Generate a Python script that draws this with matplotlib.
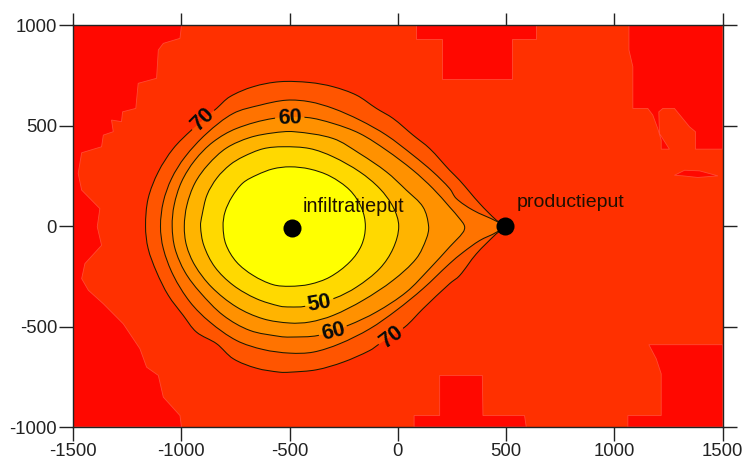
import numpy as np
import matplotlib
matplotlib.use("Agg")
import matplotlib.pyplot as plt
from matplotlib.path import Path
from matplotlib.patches import PathPatch
from matplotlib.transforms import Affine2D

plt.rcParams['font.family'] = ['Liberation Sans', 'DejaVu Sans']

# contour outlines, in data units
c45_x = [-807,-798,-766,-715,-650,-576,-498,-407,-314,-222,-168,-150,-168,-222,-314,-407,-499,-576,-668,-745,-794]
c45_y = [0,71,146,216,256,286,296,285,250,180,92,0,-95,-178,-253,-289,-299,-291,-245,-178,-90]
c50_x = [-911,-904,-881,-835,-775,-715,-622,-530,-407,-299,-176,-84,-22,4,-22,-84,-191,-291,-430,-499,-545,-653,-760,-845,-896]
c50_y = [0,56,156,241,306,346,386,396,387,346,271,188,96,0,-111,-211,-303,-358,-399,-402,-398,-361,-294,-203,-95]
c55_x = [-986,-974,-937,-876,-791,-683,-576,-480,-299,-176,-53,39,116,142,132,85,-22,-161,-299,-407,-499,-622,-745,-860,-937,-976]
c55_y = [0,105,215,307,390,442,465,471,437,362,271,180,96,0,-61,-161,-269,-369,-444,-477,-482,-461,-402,-303,-195,-95]
c60_x = [-1042,-1033,-999,-937,-853,-745,-576,-422,-299,-176,-53,70,162,239,285,308,301,239,147,39,-99,-230,-368,-499,-545,-683,-806,-914,-983,-1029]
c60_y = [0,105,221,329,420,487,537,542,512,462,379,279,188,96,38,0,-30,-103,-211,-328,-427,-494,-544,-552,-549,-519,-444,-328,-228,-111]
c65_x = [-1096,-1083,-1045,-983,-883,-760,-637,-514,-407,-299,-176,-53,70,162,239,270,347,455,485,455,378,301,239,116,-7,-130,-268,-391,-499,-622,-745,-868,-960,-1037,-1083]
c65_y = [0,121,237,345,462,562,603,628,620,587,529,454,354,271,188,138,80,25,0,-30,-71,-130,-186,-311,-419,-511,-585,-627,-632,-614,-569,-477,-377,-244,-111]
c70_x = [-1165,-1153,-1106,-1037,-953,-837,-776,-668,-545,-407,-299,-191,-99,-22,70,147,239,285,378,455,496,455,362,285,239,116,32,-84,-130,-253,-376,-499,-545,-653,-760,-837,-930,-991,-1060,-1114,-1153]
c70_y = [0,138,271,387,479,587,645,695,720,716,695,653,587,537,454,387,279,229,113,30,0,-37,-138,-246,-286,-411,-502,-585,-619,-677,-715,-727,-727,-707,-660,-585,-527,-444,-344,-228,-111]

# outermost (red) regions
red_left_x = [-1500,-999,-1006,-1083,-1106,-1114,-1199,-1210,-1271,-1276,-1322,-1314,-1360,-1368,-1460,-1476,-1460,-1376,-1388,-1368,-1445,-1460,-1429,-1360,-1268,-1191,-1160,-1106,-1083,-1006,-999,-1500]
red_left_y = [1000,1000,936,911,878,737,712,587,570,521,529,471,454,396,366,263,180,88,-3,-95,-186,-261,-319,-386,-486,-610,-702,-743,-851,-943,-1000,-1000]
red_top_x = [86,636,636,527,527,205,205,86]
red_top_y = [1000,1000,933,933,733,733,933,933]
red_tr_x = [1067,1067,1085,1085,1154,1177,1200,1216,1216,1254,1208,1205,1224,1277,1347,1374,1374,1500,1500]
red_tr_y = [1000,878,795,587,587,554,487,429,384,384,462,570,587,587,495,471,384,384,1000]
red_sliver_x = [1277,1324,1393,1478,1385,1316]
red_sliver_y = [254,279,276,251,243,251]
red_bot_x = [75,75,193,193,390,393,585,593]
red_bot_y = [-1000,-943,-943,-743,-743,-943,-943,-1000]
red_br_x = [1062,1062,1216,1216,1193,1159,1500,1500]
red_br_y = [-1000,-943,-943,-735,-660,-590,-590,-1000]

well_names = ['infiltratieput', 'productieput']
well_x = [-487, 496]
well_y = [-7, 0]
x_ticks = [-1500,-1000,-500,0,500,1000,1500]
y_ticks = [-1000,-500,0,500,1000]

COL_BASE = '#ff3000'
COL_RED = '#ff0800'
COL_BANDS = ['#ff5500', '#ff7300', '#ff9100', '#ffb400', '#ffd900', '#ffff00']


def smooth_closed(xs, ys):
    p = np.column_stack([xs, ys]).astype(float)
    n = len(p)
    tang = []
    for i in range(n):
        d = p[(i+1) % n] - p[i-1]
        tang.append(d/np.linalg.norm(d))
    verts = [p[0]]
    codes = [Path.MOVETO]
    for i in range(n):
        j = (i+1) % n
        seg = np.linalg.norm(p[j]-p[i])/3
        verts += [p[i] + tang[i]*seg, p[j] - tang[j]*seg, p[j]]
        codes += [Path.CURVE4]*3
    return Path(np.array(verts), codes)


W, H = 747, 459
fig = plt.figure(figsize=(W/100, H/100), dpi=100)
ax = fig.add_axes([73/W, 1-427/H, (722.7-73)/W, (427-25.5)/H])
ax.set_xlim(-1500, 1500)
ax.set_ylim(-1000, 1000)
ax.set_facecolor(COL_BASE)

for xs, ys in [(red_left_x, red_left_y), (red_top_x, red_top_y), (red_tr_x, red_tr_y),
               (red_sliver_x, red_sliver_y), (red_bot_x, red_bot_y), (red_br_x, red_br_y)]:
    ax.fill(xs, ys, facecolor=COL_RED, edgecolor='#ff4a35', lw=0.6, zorder=1)

outlines = [(c70_x, c70_y), (c65_x, c65_y), (c60_x, c60_y), (c55_x, c55_y), (c50_x, c50_y), (c45_x, c45_y)]
levels = [70, 65, 60, 55, 50, 45]

# (level, x, y, rotation) of the in-line labels
labels = [(70, -899, 529, 45), (60, -499, 537, 2), (50, -361, -386, 10),
          (60, -299, -524, 14), (70, -30, -552, 37)]

rect = Path([(-1600,-1100),(-1600,1100),(1600,1100),(1600,-1100),(-1600,-1100)], closed=True)
for i, ((xs, ys), lev) in enumerate(zip(outlines, levels)):
    path = smooth_closed(xs, ys)
    ax.add_patch(PathPatch(path, facecolor=COL_BANDS[i], edgecolor='none', zorder=2+i*0.1))
    clip = [rect]
    for l, lx, ly, _ in labels:
        if l == lev:
            clip.append(Path.unit_circle().transformed(Affine2D().scale(68, 72).translate(lx, ly)))
    line = PathPatch(path, facecolor='none', edgecolor='#1a1a00', lw=0.75, zorder=3)
    ax.add_patch(line)
    if len(clip) > 1:
        line.set_clip_path(Path.make_compound_path(*clip), ax.transData)

for l, lx, ly, rot in labels:
    ax.text(lx, ly, str(l), fontsize=15.5, fontweight='bold', color='#0a0a0a', ha='center', va='center',
            rotation=rot, rotation_mode='anchor', zorder=5)

ax.plot(well_x, well_y, 'o', color='black', ms=13, mew=0, zorder=6)
ax.text(-438, 70, well_names[0], fontsize=14.2, color='#201000', zorder=7, va='baseline')
ax.text(549, 95, well_names[1], fontsize=14, color='#201000', zorder=7, va='baseline')

ax.set_xticks(x_ticks)
ax.set_yticks(y_ticks)
ax.set_xticklabels([str(v) for v in x_ticks])
ax.set_yticklabels([str(v) for v in y_ticks])
ax.tick_params(axis='x', top=True, length=10, width=1, color='#222222', labelsize=13.3, labelcolor='#222222', pad=1.5)
ax.tick_params(axis='y', right=True, length=10, width=1, color='#222222', labelsize=13.3, labelcolor='#222222', pad=1.5)
for t in ax.xaxis.get_major_ticks():
    t.tick2line.set_markersize(9)
for s in ax.spines.values():
    s.set_linewidth(1)
    s.set_color('#222222')
    s.set_zorder(8)

fig.savefig('out.png', dpi=100)
